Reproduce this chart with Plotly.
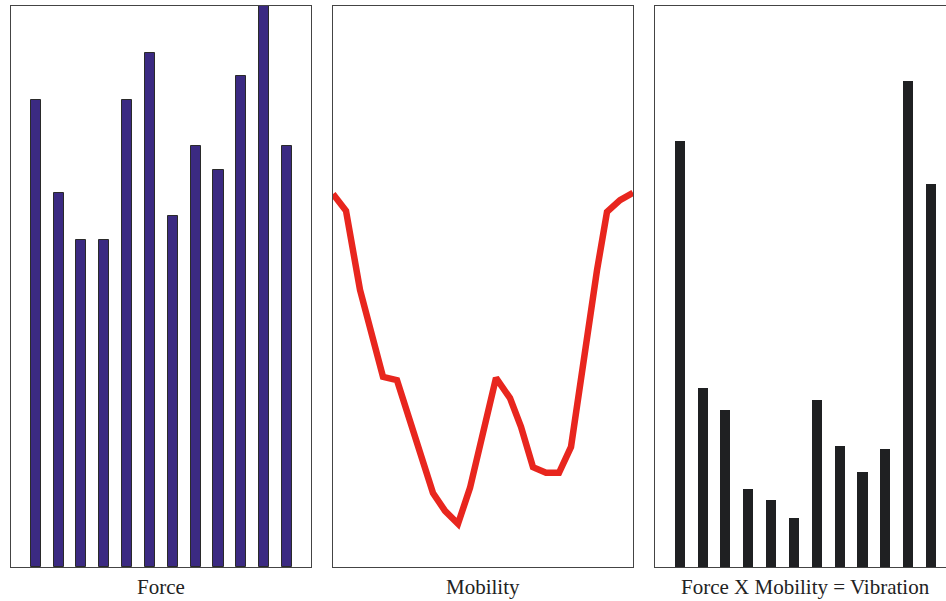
import plotly.graph_objects as go

# ---- data ----
bands = list(range(12))
force = [20, 16, 14, 14, 20, 22, 15, 18, 17, 21, 24, 18]

freq = [0, 13, 27, 50, 64, 100, 112, 125, 137, 163, 177, 188, 200, 213, 226, 238, 264, 274, 287, 300]
mobility = [66.5, 63.5, 49.4, 33.9, 33.3, 13.2, 10.0, 7.7, 14.1, 33.7, 30.1, 25.0, 17.8, 16.8, 16.8, 21.4,
            52.9, 63.3, 65.4, 66.7]

vibration = [75.9, 31.9, 28.0, 13.9, 11.9, 8.7, 29.8, 21.6, 16.9, 21.0, 86.6, 68.3]

labels = ["Force", "Mobility", "Force X Mobility = Vibration"]

# ---- layout geometry (pixels) ----
W, H = 946, 601
ML, MT, MB = 11, 6, 34
PW = W - ML
step = 22.85
x0 = -24.7 / step
frame = dict(showline=True, linecolor="#444444", linewidth=1.4, showgrid=False,
             zeroline=False, showticklabels=False, ticks="")

fig = go.Figure()
fig.add_trace(go.Bar(x=bands, y=force, width=0.44, marker=dict(color="#3b2a82",
                     line=dict(color="#2a2a2a", width=1)), xaxis="x", yaxis="y"))
fig.add_trace(go.Scatter(x=freq, y=mobility, mode="lines", line=dict(color="#e8261e", width=6.5),
                         xaxis="x2", yaxis="y2"))
fig.add_trace(go.Bar(x=bands, y=vibration, width=0.44, marker=dict(color="#1f2022", line=dict(width=0)),
                     xaxis="x3", yaxis="y3"))

def dom(a, b):
    return [(a - ML) / PW, min(1.0, (b - ML) / PW)]

fig.update_layout(
    width=W, height=H, showlegend=False,
    margin=dict(l=ML, r=0, t=MT, b=MB),
    paper_bgcolor="white", plot_bgcolor="white", bargap=0,
    xaxis=dict(domain=dom(11, 311), range=[x0, x0 + 300 / step], mirror=True, **frame),
    yaxis=dict(range=[0, 24], mirror=True, **frame),
    xaxis2=dict(domain=dom(333, 633), range=[0, 300], anchor="y2", mirror=True, **frame),
    yaxis2=dict(range=[0, 100], anchor="x2", mirror=True, **frame),
    xaxis3=dict(domain=dom(655, 946), range=[x0, x0 + 291 / step], anchor="y3", mirror=True, **frame),
    yaxis3=dict(range=[0, 100], anchor="x3", mirror=False, **frame),
)

centers = [161, 483, 805]
for lab, cx in zip(labels, centers):
    fig.add_annotation(text=lab, x=(cx - ML) / PW, y=-20 / (H - MT - MB), xref="paper", yref="paper",
                       xanchor="center", yanchor="middle", showarrow=False,
                       font=dict(family="Liberation Serif", size=21, color="#222222"))

fig.write_html("out.html", config={"displayModeBar": False},
               post_script="document.body.style.margin='0';document.body.style.overflow='hidden';")
